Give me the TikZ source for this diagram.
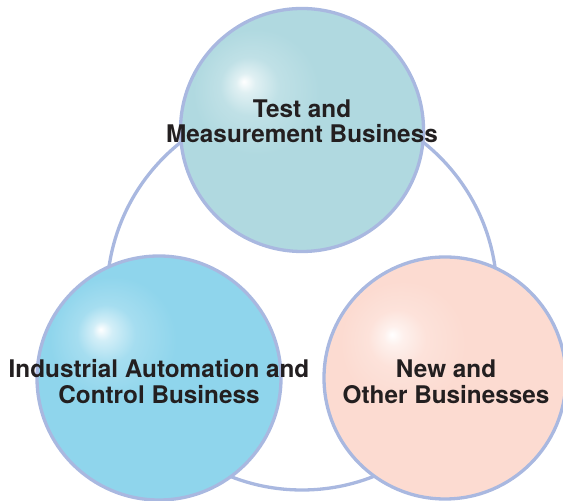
\documentclass[tikz,border=0pt]{standalone}
\usepackage{fontspec}
\setmainfont{TeX Gyre Heros}
\definecolor{tmcol}{HTML}{B0D9E0}
\definecolor{iacol}{HTML}{8FD5EC}
\definecolor{nbcol}{HTML}{FCDBD1}
\definecolor{ringcol}{HTML}{A9B8E0}
\definecolor{txtcol}{HTML}{231F20}
\pgfdeclareradialshading{tmshade}{\pgfpoint{-12bp}{10bp}}{color(0bp)=(white); color(2bp)=(tmcol!40!white); color(6bp)=(tmcol!80!white); color(13bp)=(tmcol); color(60bp)=(tmcol)}
\pgfdeclareradialshading{iashade}{\pgfpoint{-12bp}{10bp}}{color(0bp)=(white); color(2bp)=(iacol!40!white); color(6bp)=(iacol!80!white); color(13bp)=(iacol); color(60bp)=(iacol)}
\pgfdeclareradialshading{nbshade}{\pgfpoint{-11bp}{9bp}}{color(0bp)=(white); color(2bp)=(nbcol!40!white); color(6bp)=(nbcol!80!white); color(13bp)=(nbcol); color(60bp)=(nbcol)}
\begin{document}
\begin{tikzpicture}[x=1bp,y=1bp,
  bubble/.style={circle, draw=ringcol, line width=3.3bp, inner sep=0pt, shade},
  lbl/.style={font=\fontsize{24.3bp}{25bp}\selectfont\bfseries, text=txtcol, inner sep=0pt, anchor=base}]
\useasboundingbox (0,0) rectangle (563,501);
\clip (0,0) rectangle (563,501);
\node[circle, draw=ringcol, line width=3.3bp, minimum size=390bp, inner sep=0pt] (ring) at (302,206) {};
\node[bubble, shading=tmshade, minimum size=243bp] (tm) at (302,371) {};
\node[bubble, shading=iashade, minimum size=244bp] (ia) at (159,123) {};
\node[bubble, shading=nbshade, minimum size=242bp] (nb) at (445,123) {};
\node[lbl] (tm1) at (302,383) {Test and};
\node[lbl] (tm2) at (302,358) {Measurement Business};
\node[lbl] (ia1) at (159,123) {Industrial Automation and};
\node[lbl] (ia2) at (159,97) {Control Business};
\node[lbl] (nb1) at (446,123) {New and};
\node[lbl] (nb2) at (446,97) {Other Businesses};
\end{tikzpicture}
\end{document}
